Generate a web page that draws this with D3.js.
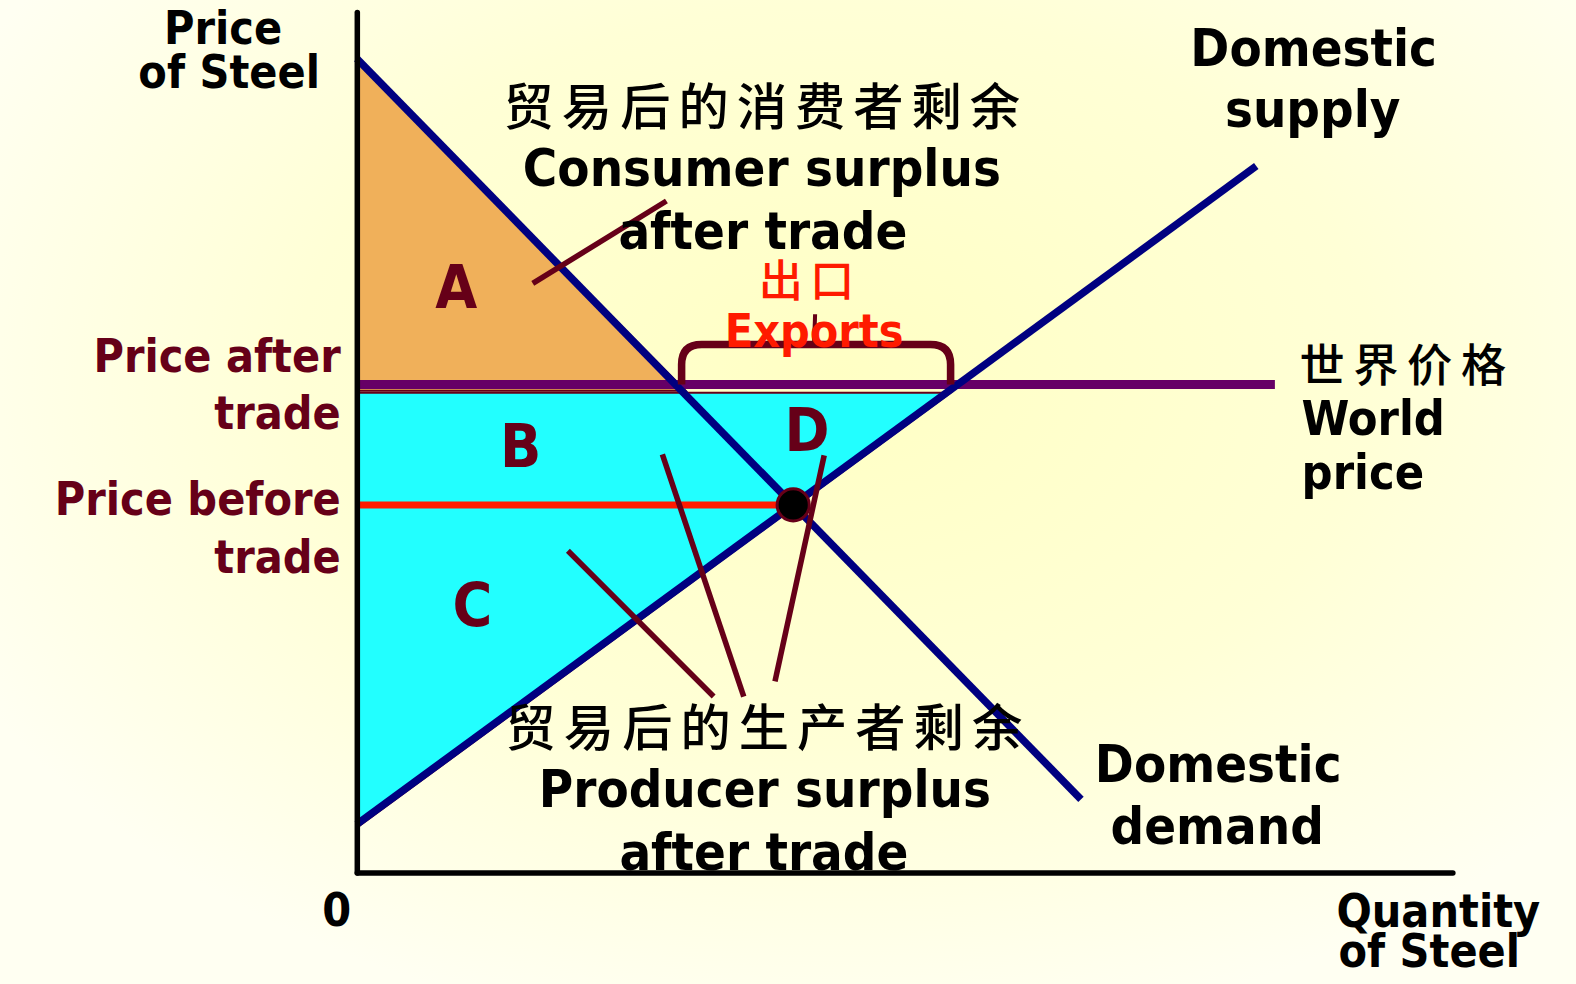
<!DOCTYPE html>
<html><head><meta charset="utf-8">
<script src="https://cdn.jsdelivr.net/npm/d3@7"></script>
<style>html,body{margin:0;padding:0;overflow:hidden;background:#FFFFF0}</style>
</head><body><svg id="c" width="1576" height="984"></svg>
<script>
// ---- data (quantity, price) in arbitrary units 0..100 ----
const demandCurve = [[0, 94.6], [66.1, 8.5]];
const supplyCurve = [[0, 5.6], [82.1, 82.1]];
const worldPrice = [56.7];
const worldPriceSpan = [0, 83.8];
const consumerLeader = [[16.06, 68.46], [28.26, 78.04]];
const producerLeaders = [
  [[19.27, 37.38], [32.57, 20.44]],
  [[27.89, 48.6], [35.32, 20.44]],
  [[42.66, 48.48], [38.17, 22.2]]
];
const areaLetters = ["A", "B", "C", "D"];
const yTitle = ["Price", "of Steel"];
const xTitle = ["Quantity", "of Steel"];
const consumerLabel = ["贸易后的消费者剩余", "Consumer surplus", "after trade"];
const producerLabel = ["贸易后的生产者剩余", "Producer surplus", "after trade"];
const exportsLabel = ["出口", "Exports"];
const supplyLabel = ["Domestic", "supply"];
const demandLabel = ["Domestic", "demand"];
const worldLabel = ["世界价格", "World", "price"];
const priceAfterLabel = ["Price after", "trade"];
const priceBeforeLabel = ["Price before", "trade"];
const originLabel = ["0"];

// ---- setup ----
const svg = d3.select("#c");
const defs = svg.append("defs");
const rg = defs.append("radialGradient").attr("id", "bg")
  .attr("cx", 0.53).attr("cy", 0.38).attr("r", 0.62)
  .attr("gradientTransform", "translate(0.53,0.38) scale(1,1.1) translate(-0.53,-0.38)");
rg.append("stop").attr("offset", 0).attr("stop-color", "#FFFFC4");
rg.append("stop").attr("offset", 0.55).attr("stop-color", "#FFFFD6");
rg.append("stop").attr("offset", 1).attr("stop-color", "#FFFFF2");
svg.append("rect").attr("width", 1576).attr("height", 984).attr("fill", "url(#bg)");

const g = svg.append("g").attr("transform", `scale(${1576 / 1568})`);
const x = d3.scaleLinear().domain([0, 100]).range([355, 1445]);
const y = d3.scaleLinear().domain([0, 100]).range([868, 12]);
const line = d3.line().x(d => x(d[0])).y(d => y(d[1]));

// line helpers
const dSlope = (demandCurve[1][1] - demandCurve[0][1]) / (demandCurve[1][0] - demandCurve[0][0]);
const sSlope = (supplyCurve[1][1] - supplyCurve[0][1]) / (supplyCurve[1][0] - supplyCurve[0][0]);
const dQ = p => (p - demandCurve[0][1]) / dSlope;
const sQ = p => (p - supplyCurve[0][1]) / sSlope;
const wp = worldPrice[0];
const qD = dQ(wp), qS = sQ(wp);
const eqQ = (demandCurve[0][1] - supplyCurve[0][1]) / (sSlope - dSlope);
const eqP = supplyCurve[0][1] + sSlope * eqQ;

const MAROON = "#660018", NAVY = "#000080", PURPLE = "#660066", RED = "#FF1A00";

// consumer surplus area (A)
g.append("path")
  .attr("d", `M${x(0) + 2},${y(demandCurve[0][1]) + 3} L${x(qD) + 10},${y(wp) + 6} L${x(0) + 2},${y(wp) + 6} Z`)
  .attr("fill", "#F0B05A").attr("stroke", MAROON).attr("stroke-width", 2);
// producer surplus area (B+C+D)
g.append("path")
  .attr("d", `M${x(0) + 2},${y(wp) + 8} L${x(qS) - 7},${y(wp) + 8} L${x(0) + 2},${y(supplyCurve[0][1]) + 2} Z`)
  .attr("fill", "#22FFFF").attr("stroke", MAROON).attr("stroke-width", 2);

// pre-trade price line
g.append("path").attr("d", line([[0, eqP], [eqQ, eqP]]))
  .attr("stroke", RED).attr("stroke-width", 7).attr("fill", "none");
// world price line
g.append("path").attr("d", line([[worldPriceSpan[0], wp], [worldPriceSpan[1], wp]]))
  .attr("stroke", PURPLE).attr("stroke-width", 9).attr("fill", "none");
// demand & supply
g.append("path").attr("d", line(demandCurve)).attr("stroke", NAVY).attr("stroke-width", 7.5).attr("fill", "none");
g.append("path").attr("d", line(supplyCurve)).attr("stroke", NAVY).attr("stroke-width", 7.5).attr("fill", "none");

// axes (no ticks)
const ax = g.append("g").attr("transform", `translate(0,${y(0)})`)
  .call(d3.axisBottom(x).tickValues([]).tickSizeOuter(0));
const ay = g.append("g").attr("transform", `translate(${x(0)},0)`)
  .call(d3.axisLeft(y).tickValues([]).tickSizeOuter(0));
[ax, ay].forEach(a => a.select(".domain").attr("stroke", "#000").attr("stroke-width", 5.5).attr("stroke-linecap", "round"));

// exports bracket
{
  const xl = x(qD) + 6, xr = x(qS) - 7, yb = y(wp), yt = y(wp) - 40, r = 20;
  const xm = (xl + xr) / 2;
  g.append("path")
    .attr("d", `M${xl},${yb} V${yt + r} Q${xl},${yt} ${xl + r},${yt} H${xr - r} Q${xr},${yt} ${xr},${yt + r} V${yb}`)
    .attr("stroke", MAROON).attr("stroke-width", 7.5).attr("fill", "none");
  g.append("path").attr("d", `M${xm - 2},${yt} L${xm - 1},${yt - 30}`)
    .attr("stroke", MAROON).attr("stroke-width", 4).attr("fill", "none");
}

// equilibrium dot
g.append("circle").attr("cx", x(eqQ)).attr("cy", y(eqP)).attr("r", 16)
  .attr("fill", "#000").attr("stroke", MAROON).attr("stroke-width", 3);

// leader lines
[consumerLeader, ...producerLeaders].forEach(l =>
  g.append("path").attr("d", line(l)).attr("stroke", MAROON).attr("stroke-width", 5.5).attr("fill", "none"));

// ---- text ----
const EN = "'DejaVu Sans Condensed','DejaVu Sans',sans-serif";
const CJK = "'Noto Sans CJK SC',sans-serif";
function txt(px, py, s, o = {}) {
  const t = g.append("text").attr("x", px).attr("y", py).text(s)
    .attr("font-family", o.family || EN)
    .attr("font-weight", o.weight || "bold")
    .attr("font-size", o.size || 52)
    .attr("fill", o.fill || "#000")
    .attr("text-anchor", o.anchor || "middle");
  if (o.ls) t.attr("letter-spacing", o.ls);
  return t;
}
// axis titles
txt(222, 44, yTitle[0], { size: 46 });
txt(228, 88, yTitle[1], { size: 46 });
txt(1431, 922, xTitle[0], { size: 46 });
txt(1422, 962, xTitle[1], { size: 46 });
txt(335, 921, originLabel[0], { size: 46 });

// consumer surplus label
txt(501, 124, consumerLabel[0], { family: CJK, weight: 500, size: 50, ls: 8, anchor: "start" });
txt(758, 185, consumerLabel[1], { size: 52 });
txt(759, 248, consumerLabel[2], { size: 52 });

// producer surplus label
txt(503, 742, producerLabel[0], { family: CJK, weight: 500, size: 50, ls: 8, anchor: "start" });
txt(761, 803, producerLabel[1], { size: 52 });
txt(760, 866, producerLabel[2], { size: 52 });

// exports
txt(755, 295, exportsLabel[0], { family: CJK, weight: 500, size: 44, ls: 7, anchor: "start", fill: RED });
txt(810, 345, exportsLabel[1], { size: 46, fill: RED });

// curve labels
txt(1307, 66, supplyLabel[0], { size: 52 });
txt(1306, 126, supplyLabel[1], { size: 52 });
txt(1212, 778, demandLabel[0], { size: 52 });
txt(1211, 840, demandLabel[1], { size: 52 });

// world price
txt(1293, 380, worldLabel[0], { family: CJK, weight: 500, size: 45, ls: 8.5, anchor: "start" });
txt(1295, 433, worldLabel[1], { size: 48, anchor: "start" });
txt(1295, 487, worldLabel[2], { size: 48, anchor: "start" });

// price labels
txt(339, 370, priceAfterLabel[0], { size: 46, anchor: "end", fill: MAROON });
txt(339, 427, priceAfterLabel[1], { size: 46, anchor: "end", fill: MAROON });
txt(339, 512, priceBeforeLabel[0], { size: 46, anchor: "end", fill: MAROON });
txt(339, 570, priceBeforeLabel[1], { size: 46, anchor: "end", fill: MAROON });

// area letters
txt(454, 306, areaLetters[0], { size: 60, fill: MAROON });
txt(518, 465, areaLetters[1], { size: 60, fill: MAROON });
txt(470, 623, areaLetters[2], { size: 60, fill: MAROON });
txt(803, 449, areaLetters[3], { size: 60, fill: MAROON });
</script></body></html>
